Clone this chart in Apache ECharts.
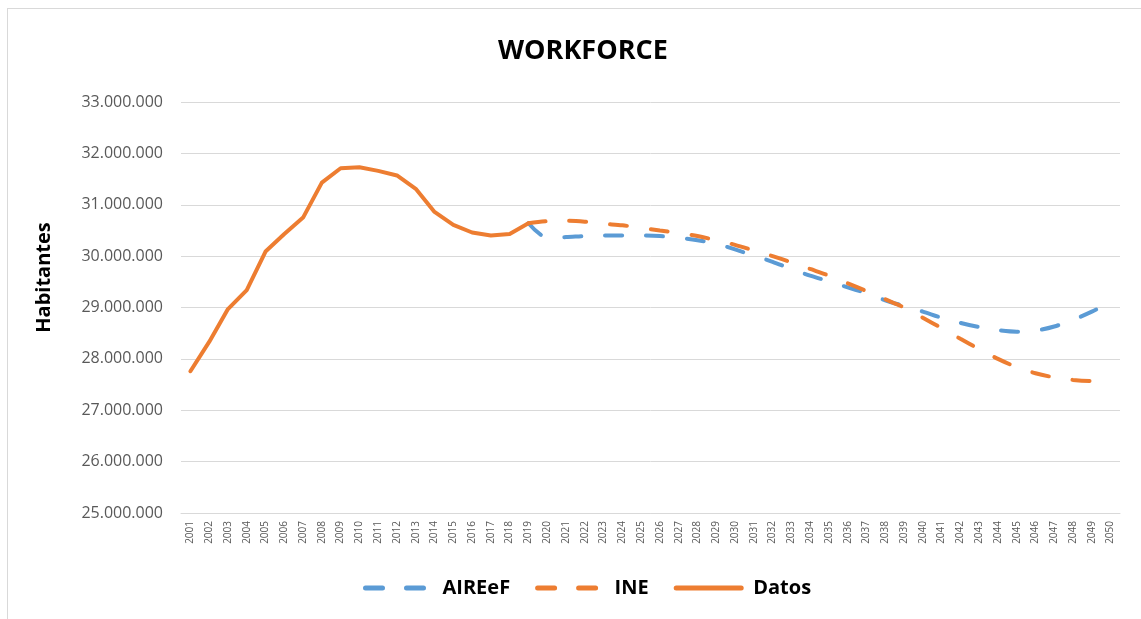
<!DOCTYPE html>
<html>
<head>
<meta charset="utf-8">
<title>WORKFORCE</title>
<script src="https://cdn.jsdelivr.net/npm/echarts@6/dist/echarts.min.js"></script>
<style>
  body { margin: 0; background: #fff; }
  #frame { position: absolute; left: 7px; top: 8px; width: 1160px; height: 640px; border: 1px solid #d9d9d9; }
  #main { position: absolute; left: 0; top: 0; width: 1141px; height: 619px; }
</style>
</head>
<body>
<div id="frame"></div>
<div id="main"></div>
<script>
// años 2001-2050
var years = [];
for (var y = 2001; y <= 2050; y++) years.push(String(y));

// millones de habitantes
var datos = [27.76, 28.33, 28.97, 29.34, 30.09, 30.43, 30.75, 31.43, 31.71, 31.73,
  31.66, 31.57, 31.31, 30.86, 30.61, 30.46, 30.40, 30.43, 30.64];

var aireef = [30.64, 30.36, 30.37, 30.39, 30.40, 30.40, 30.40, 30.39, 30.36, 30.31,
  30.24, 30.13, 30.01, 29.89, 29.75, 29.62, 29.51, 29.39, 29.28, 29.14,
  29.03, 28.92, 28.80, 28.70, 28.62, 28.56, 28.53, 28.55, 28.63, 28.76,
  28.92, 29.10];

var ine = [30.64, 30.68, 30.69, 30.67, 30.63, 30.60, 30.55, 30.50, 30.45, 30.39,
  30.31, 30.22, 30.11, 30.00, 29.88, 29.75, 29.62, 29.47, 29.32, 29.16,
  29.00, 28.80, 28.60, 28.39, 28.19, 28.00, 27.84, 27.72, 27.64, 27.59,
  27.57, 27.57];

// huecos hasta 2019 para las proyecciones
var pad = [];
for (var i = 0; i < 18; i++) pad.push(null);

var chart = echarts.init(document.getElementById('main'));

var option = {
  animation: false,
  title: {
    text: 'WORKFORCE',
    left: 493,
    top: 33,
    textStyle: { fontFamily: 'Open Sans', fontWeight: 'bold', fontSize: 27, color: '#000' }
  },
  grid: { left: 181, right: 21, top: 102, bottom: 106 },
  legend: {
    bottom: 16,
    left: 358,
    itemWidth: 65,
    itemHeight: 14,
    itemGap: 25,
    data: ['AIREeF', 'INE', 'Datos'],
    itemStyle: { opacity: 0 },
    lineStyle: { width: 5, cap: 'round' },
    textStyle: { fontFamily: 'Open Sans', fontWeight: 'bold', fontSize: 20, color: '#000', padding: [0, 0, 0, 7] }
  },
  xAxis: {
    type: 'category',
    data: years,
    boundaryGap: true,
    axisLine: { lineStyle: { color: '#d9d9d9', width: 1 } },
    axisTick: { show: false },
    axisLabel: { rotate: 90, interval: 0, fontSize: 10, color: '#595959', fontFamily: 'Open Sans', margin: 8 }
  },
  yAxis: {
    type: 'value',
    min: 25,
    max: 33,
    interval: 1,
    name: 'Habitantes',
    nameLocation: 'middle',
    nameGap: 127,
    nameTextStyle: { fontFamily: 'Open Sans', fontWeight: 'bold', fontSize: 20, color: '#000', padding: [0, 0, 0, 60] },
    axisLine: { show: false },
    axisTick: { show: false },
    splitLine: { lineStyle: { color: '#d9d9d9', width: 1 } },
    axisLabel: {
      fontSize: 16,
      color: '#595959',
      fontFamily: 'Open Sans',
      margin: 18,
      formatter: function (v) { return v + '.000.000'; }
    }
  },
  series: [
    {
      name: 'AIREeF',
      type: 'line',
      data: pad.concat(aireef),
      symbol: 'none',
      smooth: 0.3,
      lineStyle: { color: '#5B9BD5', width: 4, type: [17, 24], cap: 'round' },
      itemStyle: { color: '#5B9BD5' }
    },
    {
      name: 'INE',
      type: 'line',
      data: pad.concat(ine),
      symbol: 'none',
      smooth: 0.3,
      lineStyle: { color: '#ED7D31', width: 4, type: [17, 24], cap: 'round' },
      itemStyle: { color: '#ED7D31' }
    },
    {
      name: 'Datos',
      type: 'line',
      data: datos,
      symbol: 'none',
      lineStyle: { color: '#ED7D31', width: 4, cap: 'round', join: 'round' },
      itemStyle: { color: '#ED7D31' }
    }
  ]
};

chart.setOption(option);
</script>
</body>
</html>
